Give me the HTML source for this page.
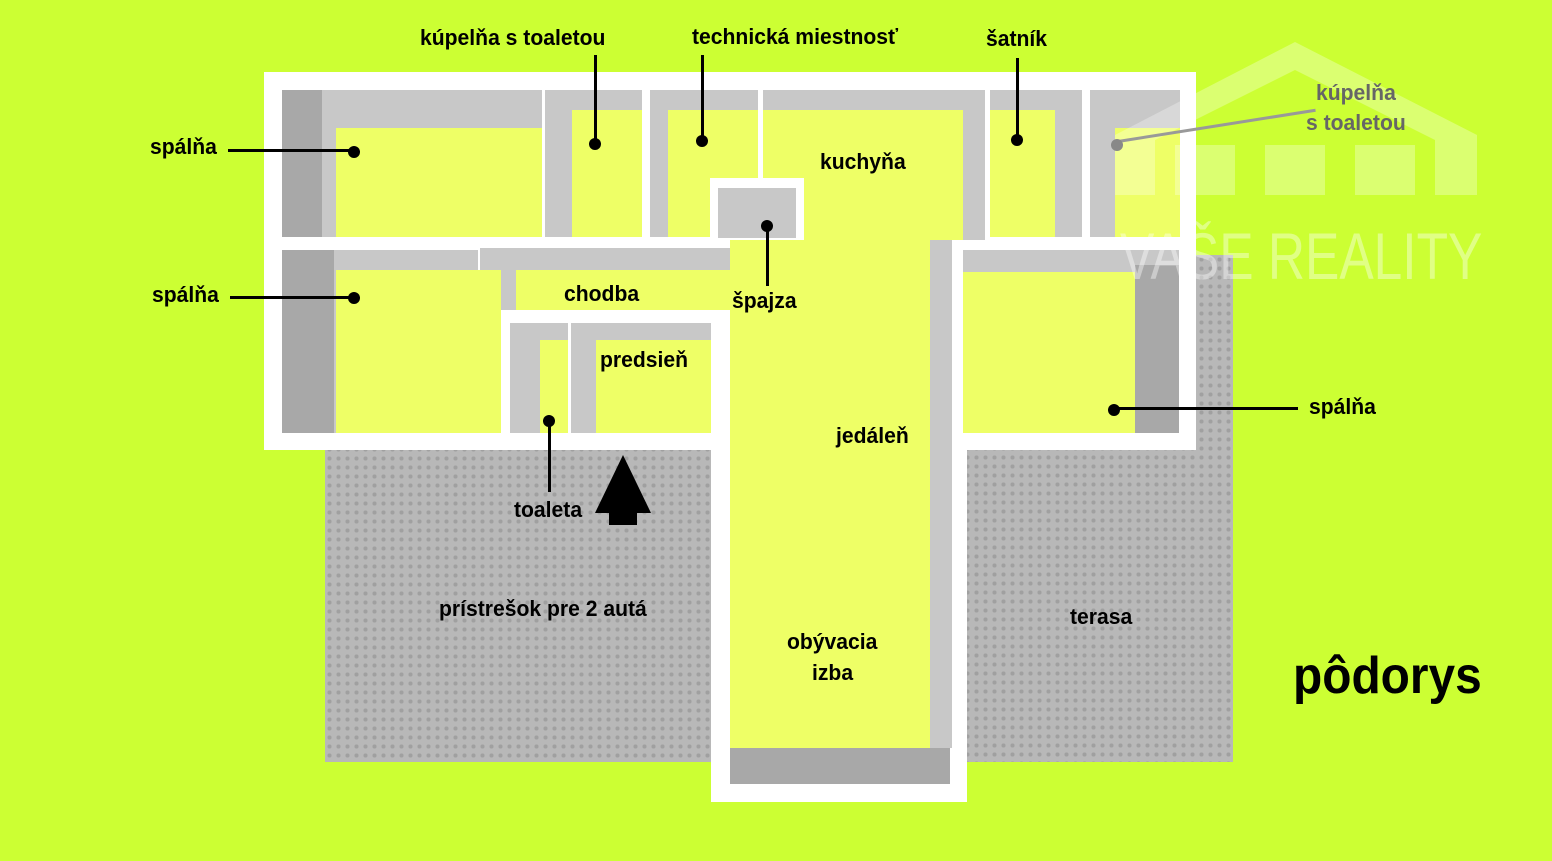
<!DOCTYPE html>
<html><head><meta charset="utf-8"><style>
body{margin:0;width:1552px;height:861px;background:#ccff33;position:relative;overflow:hidden;font-family:"Liberation Sans",sans-serif}
div{position:absolute;box-sizing:border-box}
.w{background:#fff}.g{background:#c8c8c8}.dg{background:#a8a8a8}.y{background:#eeff66}
.pav{background:#b8b8b8;background-image:radial-gradient(#a0a0a0 30%,transparent 35%);background-size:9px 9px}
.t{font-weight:bold;font-size:22px;color:#000;white-space:nowrap;transform:scaleX(.96);transform-origin:left}
.l{background:#000;height:3px}.v{background:#000;width:3px}
.d{width:12px;height:12px;border-radius:50%;background:#000}
</style></head><body>
<div class="pav" style="left:325px;top:445px;width:390px;height:317px"></div>
<div class="pav" style="left:963px;top:255px;width:270px;height:507px"></div>
<div class="w" style="left:264px;top:72px;width:932px;height:378px"></div>
<div class="w" style="left:711px;top:300px;width:256px;height:502px"></div>
<div class="g" style="left:282px;top:90px;width:260px;height:147px"></div>
<div class="y" style="left:336px;top:128px;width:206px;height:109px"></div>
<div class="dg" style="left:282px;top:90px;width:40px;height:147px"></div>
<div class="g" style="left:545px;top:90px;width:97px;height:147px"></div>
<div class="y" style="left:572px;top:110px;width:70px;height:127px"></div>
<div class="g" style="left:650px;top:90px;width:108px;height:147px"></div>
<div class="y" style="left:668px;top:110px;width:90px;height:127px"></div>
<div class="g" style="left:763px;top:90px;width:222px;height:150px"></div>
<div class="y" style="left:763px;top:110px;width:200px;height:130px"></div>
<div class="w" style="left:710px;top:178px;width:94px;height:70px"></div>
<div class="g" style="left:718px;top:188px;width:78px;height:50px"></div>
<div class="g" style="left:990px;top:90px;width:92px;height:147px"></div>
<div class="y" style="left:990px;top:110px;width:65px;height:127px"></div>
<div class="g" style="left:1090px;top:90px;width:90px;height:147px"></div>
<div class="y" style="left:1115px;top:128px;width:65px;height:109px"></div>
<div class="g" style="left:480px;top:248px;width:322px;height:22px"></div>
<div class="y" style="left:516px;top:270px;width:214px;height:40px"></div>
<div class="g" style="left:486px;top:252px;width:30px;height:58px"></div>
<div class="g" style="left:282px;top:250px;width:196px;height:183px"></div>
<div class="y" style="left:336px;top:270px;width:165px;height:163px"></div>
<div class="dg" style="left:282px;top:250px;width:52px;height:183px"></div>
<div class="g" style="left:510px;top:323px;width:58px;height:110px"></div>
<div class="y" style="left:540px;top:340px;width:28px;height:93px"></div>
<div class="g" style="left:571px;top:323px;width:140px;height:110px"></div>
<div class="y" style="left:596px;top:340px;width:115px;height:93px"></div>
<div class="y" style="left:730px;top:240px;width:200px;height:508px"></div>
<div class="g" style="left:930px;top:240px;width:22px;height:508px"></div>
<div class="dg" style="left:730px;top:748px;width:220px;height:36px"></div>
<div class="g" style="left:963px;top:250px;width:216px;height:183px"></div>
<div class="y" style="left:963px;top:272px;width:172px;height:161px"></div>
<div class="dg" style="left:1135px;top:265px;width:44px;height:168px"></div>
<!-- watermark -->
<svg style="position:absolute;left:1115px;top:40px;opacity:.3" width="362" height="160"><path d="M0 95 L180 2 L362 95 L362 155 L320 155 L320 100 L180 30 L40 100 L40 155 L0 155Z" fill="#fff"/><rect x="60" y="105" width="60" height="50" fill="#fff"/><rect x="150" y="105" width="60" height="50" fill="#fff"/><rect x="240" y="105" width="60" height="50" fill="#fff"/></svg>
<div style="left:1120px;top:218px;font-size:66px;color:#fff;opacity:.4;white-space:nowrap;transform:scaleX(.78);transform-origin:left">VAŠE REALITY</div>
<div class="t" style="left:420px;top:25px">kúpelňa s toaletou</div>
<div class="t" style="left:692px;top:24px">technická miestnosť</div>
<div class="t" style="left:986px;top:26px">šatník</div>
<div class="t" style="left:1316px;top:80px;color:#666">kúpelňa</div>
<div class="t" style="left:1306px;top:110px;color:#666">s toaletou</div>
<div class="t" style="left:150px;top:134px">spálňa</div>
<div class="t" style="left:152px;top:282px">spálňa</div>
<div class="t" style="left:1309px;top:394px">spálňa</div>
<div class="t" style="left:820px;top:149px">kuchyňa</div>
<div class="t" style="left:564px;top:281px">chodba</div>
<div class="t" style="left:732px;top:288px">špajza</div>
<div class="t" style="left:600px;top:347px">predsieň</div>
<div class="t" style="left:836px;top:423px">jedáleň</div>
<div class="t" style="left:514px;top:497px">toaleta</div>
<div class="t" style="left:439px;top:596px">prístrešok pre 2 autá</div>
<div class="t" style="left:1070px;top:604px">terasa</div>
<div class="t" style="left:787px;top:629px">obývacia</div>
<div class="t" style="left:812px;top:660px">izba</div>
<div style="left:1293px;top:646px;font-size:52px;font-weight:bold;transform:scaleX(.92);transform-origin:left">pôdorys</div>
<div class="v" style="left:594px;top:55px;height:88px"></div><div class="d" style="left:589px;top:138px"></div>
<div class="v" style="left:701px;top:55px;height:88px"></div><div class="d" style="left:696px;top:135px"></div>
<div class="v" style="left:1016px;top:58px;height:82px"></div><div class="d" style="left:1011px;top:134px"></div>
<div class="l" style="left:1118px;top:140px;width:200px;background:#999;transform:rotate(-9deg);transform-origin:left"></div><div class="d" style="left:1111px;top:139px;background:#888"></div>
<div class="l" style="left:228px;top:149px;width:125px"></div><div class="d" style="left:348px;top:146px"></div>
<div class="l" style="left:230px;top:296px;width:125px"></div><div class="d" style="left:348px;top:292px"></div>
<div class="l" style="left:1115px;top:407px;width:183px"></div><div class="d" style="left:1108px;top:404px"></div>
<div class="v" style="left:766px;top:226px;height:60px"></div><div class="d" style="left:761px;top:220px"></div>
<div class="v" style="left:548px;top:420px;height:72px"></div><div class="d" style="left:543px;top:415px"></div>
<div style="left:595px;top:455px;width:0;height:0;border-left:28px solid transparent;border-right:28px solid transparent;border-bottom:58px solid #000"></div>
<div style="left:609px;top:510px;width:28px;height:15px;background:#000"></div>
</body></html>
